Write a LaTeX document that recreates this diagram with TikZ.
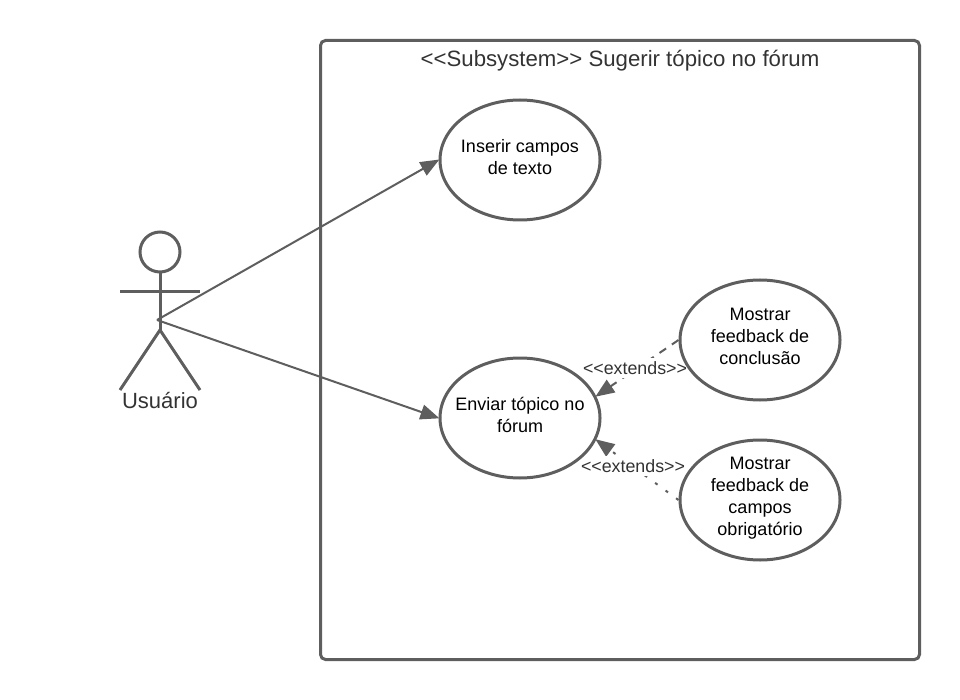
\documentclass[tikz,border=0pt]{standalone}
\usepackage{fontspec}
\setmainfont{Liberation Sans}
\usetikzlibrary{positioning,shapes.geometric,arrows.meta,backgrounds}
\definecolor{umlgray}{HTML}{5E5E5E}
\definecolor{umltext}{HTML}{333333}
\newcommand{\opentag}{{<}{<}}
\newcommand{\closetag}{{>}{>}}
\tikzset{
  usecase/.style={draw=umlgray,line width=3pt,ellipse,minimum width=160pt,minimum height=120pt,inner sep=-30pt,
    align=center,font=\fontsize{18}{22}\selectfont,text=black,text depth=7pt},
  assoc/.style={draw=umlgray,line width=2pt,-{Triangle[length=19pt,width=15pt]},shorten >=-1pt},
  extlabel/.style={fill=white,inner xsep=1pt,inner ysep=3pt,font=\fontsize{17.8}{20}\selectfont,text=umltext},
  actorline/.style={draw=umlgray,line width=3pt},
}
\begin{document}
\begin{tikzpicture}[x=1pt,y=-1pt]
\useasboundingbox (0,0) rectangle (960,700);
\node[draw=umlgray,line width=3pt,rounded corners=5pt,minimum width=599pt,minimum height=619pt,inner sep=0pt] (subsystem) at (620,350) {};
\node[font=\fontsize{22.2}{26}\selectfont,text=umltext,inner sep=0pt] (title) at (620,61) {\opentag Subsystem\closetag{} Sugerir tópico no fórum};

\node[usecase] (inserir) at (520,160) {Inserir campos\\de texto}; 
\node[usecase] (enviar) at (520,418) {Enviar tópico no\\fórum};
\node[usecase] (conclusao) at (760,340) {Mostrar\\feedback de\\conclusão};
\node[usecase] (campos) at (760,500) {Mostrar\\feedback de\\campos\\obrigatório};

% actor
\node[circle,draw=umlgray,line width=3pt,minimum size=40pt,inner sep=0pt] (head) at (160,252) {};
\coordinate (hip) at (160,330);
\coordinate (handl) at (120,292);
\coordinate (handr) at (200,292);
\coordinate (footl) at (120,390);
\coordinate (footr) at (200,390);
\coordinate (usuario) at (157,320);
\draw[actorline] (head) -- (hip);
\draw[actorline] (handl) -- (handr);
\draw[actorline] (footl) -- (hip) -- (footr);
\node[font=\fontsize{22}{26}\selectfont,text=umltext,inner sep=0pt] (actorname) at (160,401) {Usuário};

\draw[assoc] (usuario) -- (inserir.west);
\draw[assoc] (usuario) -- (enviar.west);

\begin{scope}[on background layer]
\draw[assoc,dash pattern=on 8pt off 7pt] (conclusao.west) -- (enviar.16);
\draw[assoc,dash pattern=on 3pt off 10pt] (campos.west) -- (enviar.-16);
\node[extlabel] (ext1) at (635,368) {\opentag extends\closetag};
\node[extlabel] (ext2) at (633,466) {\opentag extends\closetag};
\end{scope}
\end{tikzpicture}
\end{document}
